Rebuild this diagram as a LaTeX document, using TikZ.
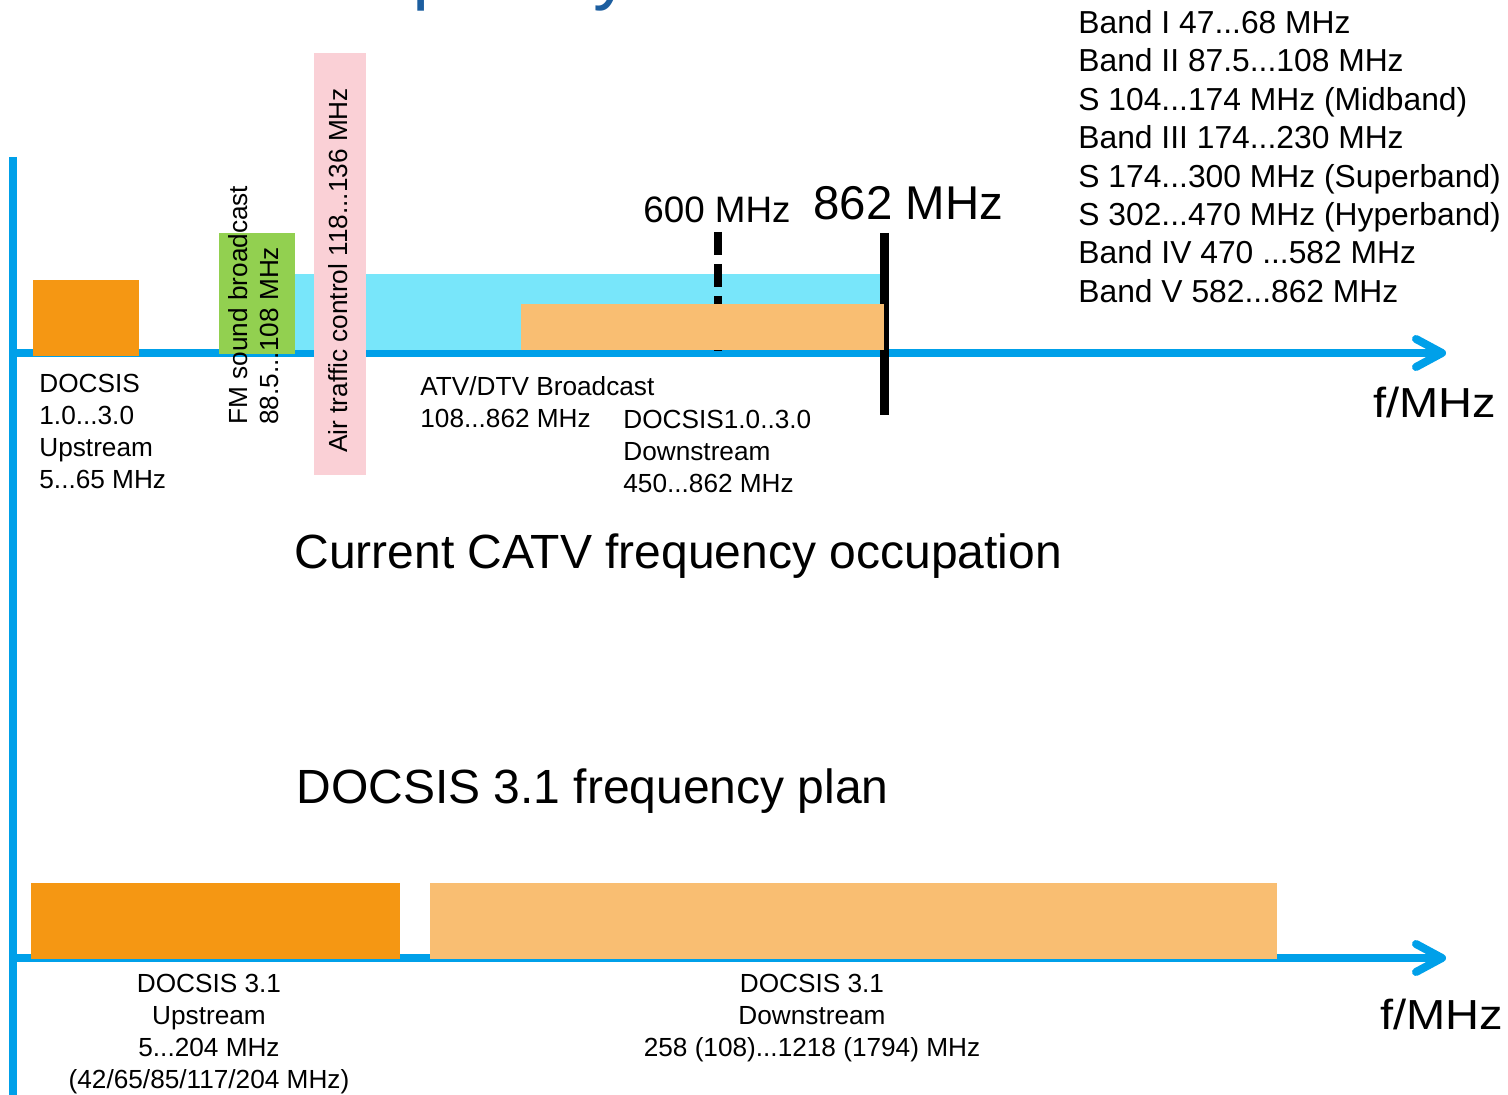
\documentclass[tikz,border=0pt]{standalone}
\usepackage{fontspec}
\setmainfont{Liberation Sans}
\usetikzlibrary{arrows.meta}
\definecolor{axisblue}{RGB}{0,160,233}
\definecolor{upsorange}{RGB}{245,151,19}
\definecolor{dsorange}{RGB}{249,190,114}
\definecolor{tvcyan}{RGB}{120,230,250}
\definecolor{fmgreen}{RGB}{146,208,80}
\definecolor{atcpink}{RGB}{250,208,214}
\definecolor{titleblue}{RGB}{28,94,159}

\begin{document}
\begin{tikzpicture}[x=0.5pt,y=-0.5pt,
    small/.style={font=\fontsize{13.1}{16}\selectfont, inner sep=0pt},
    big/.style={font=\fontsize{24}{28}\selectfont, inner sep=0pt},
    axisline/.style={axisblue, line width=4pt},
    faxis/.style={axisline, -{Straight Barb[length=13pt,width=14pt,round]}},
    funit/.style={font=\fontsize{21}{24}\selectfont, inner sep=0pt, xscale=1.12, anchor=base west}]
    \useasboundingbox (0,0) rectangle (1508,1095);
    % title, cut off at the top
    \node[anchor=base west, inner sep=0pt, titleblue, font=\fontsize{37.8}{40}\selectfont] (title) at (274,-4) {Frequency};
	% axes
    \draw[axisline] (13,157) -- (13,1100);
    \draw[faxis] (13,353) -- (1446,353);
    \draw[faxis] (13,958) -- (1446,958);
    % current occupation
    \fill[upsorange] (33,280) rectangle (139,356);
    \fill[tvcyan] (295,274) rectangle (880,350);
    \fill[fmgreen] (219,233) rectangle (295,354);
    \fill[atcpink] (314,53) rectangle (366,475);
    \draw[line width=3.75pt, dash pattern=on 11.5pt off 4.5pt] (718,232) -- (718,352);
    \draw[line width=4.5pt] (884.5,233) -- (884.5,415);
    \fill[dsorange] (521,304) rectangle (884,350);
    \node[anchor=north west, inner sep=0pt, font=\fontsize{18.4}{20}\selectfont] (m600) at (643,196) {600 MHz};
    \node[anchor=north west, inner sep=0pt, font=\fontsize{23.7}{26}\selectfont] (m862) at (813,186) {862 MHz};
    \node[small, anchor=north west, align=left] (usl) at (39,374) {DOCSIS\\1.0...3.0\\Upstream\\5...65 MHz};
    \node[small, rotate=90, anchor=north west, align=left, font=\fontsize{13.1}{15.5}\selectfont] (fml) at (228,425) {FM sound broadcast\\88.5...108 MHz};
    \node[small, rotate=90, anchor=north west] (atcl) at (328,453) {Air traffic control 118...136 MHz};
    \node[small, anchor=north west, align=left] (tvl) at (420,376) {ATV/DTV Broadcast\\108...862 MHz};
    \node[small, anchor=north west, align=left] (dsl) at (623,410) {DOCSIS1.0..3.0\\Downstream\\450...862 MHz};
    \node[anchor=north west, align=left, inner sep=0pt, font=\fontsize{15.9}{19.2}\selectfont] (bands) at (1078,10)
        {Band I 47...68 MHz\\Band II 87.5...108 MHz\\S 104...174 MHz (Midband)\\Band III 174...230 MHz\\
         S 174...300 MHz (Superband)\\S 302...470 MHz (Hyperband)\\Band IV 470 ...582 MHz\\Band V 582...862 MHz};
    \node[funit] (f1) at (1373,418) {f/MHz};
    \node[big, anchor=base west] (curt) at (294,568) {Current CATV frequency occupation};
    % DOCSIS 3.1 plan
    \node[big, anchor=base west] (plant) at (296,803) {DOCSIS 3.1 frequency plan};
    \fill[upsorange] (31,883) rectangle (400,959);
    \fill[dsorange] (430,883) rectangle (1277,959);
    \node[small, anchor=north, align=center] (us31) at (209,974) {DOCSIS 3.1\\Upstream\\5...204 MHz\\(42/65/85/117/204 MHz)};
    \node[small, anchor=north, align=center] (ds31) at (812,974) {DOCSIS 3.1\\Downstream\\258 (108)...1218 (1794) MHz};
    \node[funit] (f2) at (1380,1029) {f/MHz};
\end{tikzpicture}
\end{document}
